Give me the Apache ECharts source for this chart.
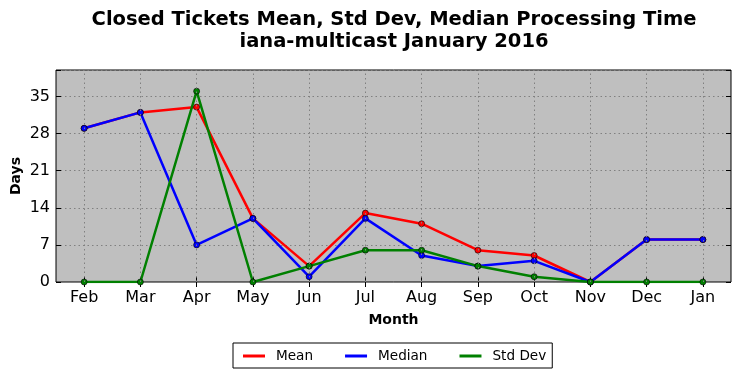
<!DOCTYPE html>
<html><head><meta charset="utf-8">
<script src="https://cdn.jsdelivr.net/npm/echarts@6/dist/echarts.min.js"></script>
<style>html,body{margin:0;padding:0;background:#fff}#c{width:741px;height:378px}</style>
</head><body><div id="c"></div>
<script>
const months = ["Feb","Mar","Apr","May","Jun","Jul","Aug","Sep","Oct","Nov","Dec","Jan"];
const meanVals = [29, 32, 33, 12, 3, 13, 11, 6, 5, 0, 8, 8];
const medianVals = [29, 32, 7, 12, 1, 12, 5, 3, 4, 0, 8, 8];
const stdVals = [0, 0, 36, 0, 3, 6, 6, 3, 1, 0, 0, 0];
const yTicks = [0, 7, 14, 21, 28, 35];

const font = "DejaVu Sans";
const chart = echarts.init(document.getElementById('c'));
const gridLine = {color: '#808080', type: [1.5, 3], width: 1};
function ser(name, data, color) {
  return {
    name, type: 'line', data, xAxisIndex: 0, yAxisIndex: 0,
    symbol: 'circle', symbolSize: 6,
    lineStyle: {color, width: 2.5},
    itemStyle: {color, borderColor: '#000', borderWidth: 0.6},
    emphasis: {disabled: true}, animation: false, z: 3
  };
}
chart.setOption({
  animation: false,
  title: {
    text: 'Closed Tickets Mean, Std Dev, Median Processing Time\niana-multicast January 2016',
    left: 389, top: 4, textAlign: 'center',
    textStyle: {fontFamily: font, fontWeight: 'bold', fontSize: 19.5, color: '#000', lineHeight: 22}
  },
  grid: {left: 56, right: 10, top: 70, bottom: 96, show: true, backgroundColor: '#bfbfbf', borderColor: '#000', borderWidth: 1, outerBoundsMode: 'none', containLabel: false},
  legend: {
    data: ['Mean', 'Median', 'Std Dev'],
    left: 233, top: 343,
    padding: [6, 6, 5, 10],
    itemGap: 32, itemWidth: 22, itemHeight: 3,
    icon: 'rect',
    itemStyle: {borderWidth: 0},
    borderColor: '#000', borderWidth: 1, borderRadius: 0,
    backgroundColor: '#fff',
    textStyle: {fontFamily: font, fontSize: 13.6, color: '#000', padding: [0, 0, 0, 6]}
  },
  xAxis: [{
    type: 'category', data: months, boundaryGap: true, position: 'bottom',
    name: 'Month', nameLocation: 'middle', nameGap: 31,
    nameTextStyle: {fontFamily: font, fontWeight: 'bold', fontSize: 14, color: '#000'},
    axisLine: {show: false},
    axisTick: {show: true, inside: true, alignWithLabel: true, length: 5, lineStyle: {color: '#000'}},
    axisLabel: {fontFamily: font, fontSize: 16, color: '#000', margin: 8},
    splitLine: {show: false}
  }, {
    type: 'category', data: months, boundaryGap: true, position: 'top',
    axisLine: {show: false},
    axisTick: {show: true, inside: true, alignWithLabel: true, length: 5, lineStyle: {color: '#000'}},
    axisLabel: {show: false}, splitLine: {show: false}
  }],
  yAxis: [{
    type: 'value', min: 0, max: 40, interval: 7,
    name: 'Days', nameLocation: 'middle', nameGap: 33, nameRotate: 90, nameMoveOverlap: false,
    nameTextStyle: {fontFamily: font, fontWeight: 'bold', fontSize: 14, color: '#000'},
    axisLine: {show: false},
    axisTick: {show: true, inside: true, length: 5, lineStyle: {color: '#000'}},
    axisLabel: {fontFamily: font, fontSize: 16, color: '#000', margin: 6,
      formatter: v => yTicks.includes(v) ? String(v) : ''},
    splitLine: {show: true, lineStyle: gridLine}
  }, {
    type: 'value', min: 0, max: 40, interval: 7, position: 'right',
    axisLine: {show: false},
    axisTick: {show: true, inside: true, length: 5, lineStyle: {color: '#000'}},
    axisLabel: {show: false}, splitLine: {show: false}
  }],
  series: [
    {
      name: 'vgrid', type: 'line', data: [], xAxisIndex: 0, yAxisIndex: 0, z: 1,
      markLine: {silent: true, symbol: 'none', label: {show: false}, lineStyle: gridLine,
        animation: false, data: months.map(m => ({xAxis: m}))}
    },
    ser('Mean', meanVals, '#ff0000'),
    ser('Median', medianVals, '#0000ff'),
    ser('Std Dev', stdVals, '#008000')
  ]
});
</script></body></html>
